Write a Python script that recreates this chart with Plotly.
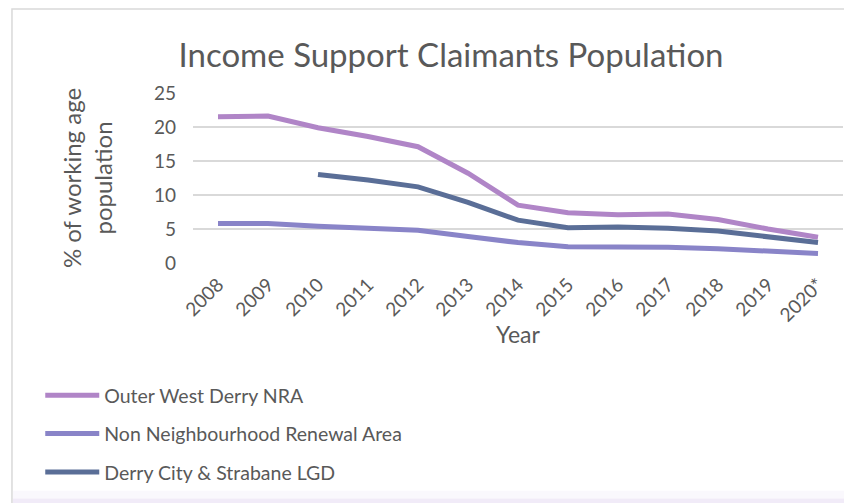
import plotly.graph_objects as go

years = ["2008", "2009", "2010", "2011", "2012", "2013", "2014",
         "2015", "2016", "2017", "2018", "2019", "2020*"]
outer_west = [21.5, 21.6, 19.9, 18.6, 17.1, 13.2, 8.5, 7.4, 7.1, 7.2, 6.4, 5.0, 3.8]
non_nra = [5.8, 5.8, 5.4, 5.1, 4.8, 3.9, 3.0, 2.4, 2.4, 2.3, 2.1, 1.8, 1.4]
derry_lgd = [None, None, 13.0, 12.2, 11.2, 8.9, 6.3, 5.2, 5.3, 5.1, 4.7, 3.8, 3.0]

font = "Lato, Open Sans, sans-serif"
grey = "#595959"

fig = go.Figure()
fig.add_trace(go.Scatter(x=years, y=outer_west, mode="lines", name="Outer West Derry NRA",
                         line=dict(color="#b085c7", width=5), legendgroup="a"))
fig.add_trace(go.Scatter(x=years, y=non_nra, mode="lines", name="Non Neighbourhood Renewal Area",
                         line=dict(color="#8984c8", width=5), legendgroup="b"))
fig.add_trace(go.Scatter(x=years, y=derry_lgd, mode="lines", name="Derry City & Strabane LGD",
                         line=dict(color="#5a6e97", width=5), legendgroup="c"))

# chart frame and faint lavender shadow along the bottom
fig.add_shape(type="rect", xref="paper", yref="paper", x0=-0.2785, x1=1.03, y0=-1.45, y1=1.494,
              line=dict(color="#d9d9d9", width=1.5), fillcolor="rgba(0,0,0,0)", layer="below")
fig.add_shape(type="rect", xref="paper", yref="paper", x0=-0.277, x1=1.03, y0=-1.385, y1=-1.34,
              line=dict(width=0), fillcolor="#faf8fd", layer="below")
fig.add_shape(type="rect", xref="paper", yref="paper", x0=-0.277, x1=1.03, y0=-1.45, y1=-1.385,
              line=dict(width=0), fillcolor="#f1ebf8", layer="below")

fig.update_layout(
    width=852, height=503,
    margin=dict(l=185, r=17, t=85, b=248, autoexpand=False),
    paper_bgcolor="white", plot_bgcolor="white",
    font=dict(family=font, color=grey, size=17),
    title=dict(text="Income Support Claimants Population", x=0.52, xanchor="center",
               y=0.905, yanchor="middle", font=dict(size=33, color=grey)),
    showlegend=True,
    legend=dict(orientation="v", x=-0.235, xanchor="left", y=-0.665, yanchor="top",
                font=dict(size=19.5, color=grey), tracegroupgap=10, itemwidth=54,
                bgcolor="rgba(0,0,0,0)"),
    xaxis=dict(type="category", range=[-0.5, 12.5], showgrid=False, showline=False,
               automargin=False, ticks="", tickangle=-45, ticklabelstandoff=6,
               tickfont=dict(size=19, color=grey),
               title=dict(text="Year", font=dict(size=23, color=grey), standoff=1)),
    yaxis=dict(range=[0, 25], dtick=5, showgrid=True, gridcolor="#d9d9d9", gridwidth=1.5,
               zeroline=False, showline=False, ticks="", ticklabelstandoff=16,
               automargin=False, tickfont=dict(size=19, color=grey),
               title=dict(text="% of working age<br>population", font=dict(size=24, color=grey),
                          standoff=34)),
)

fig.write_html("out.html")
